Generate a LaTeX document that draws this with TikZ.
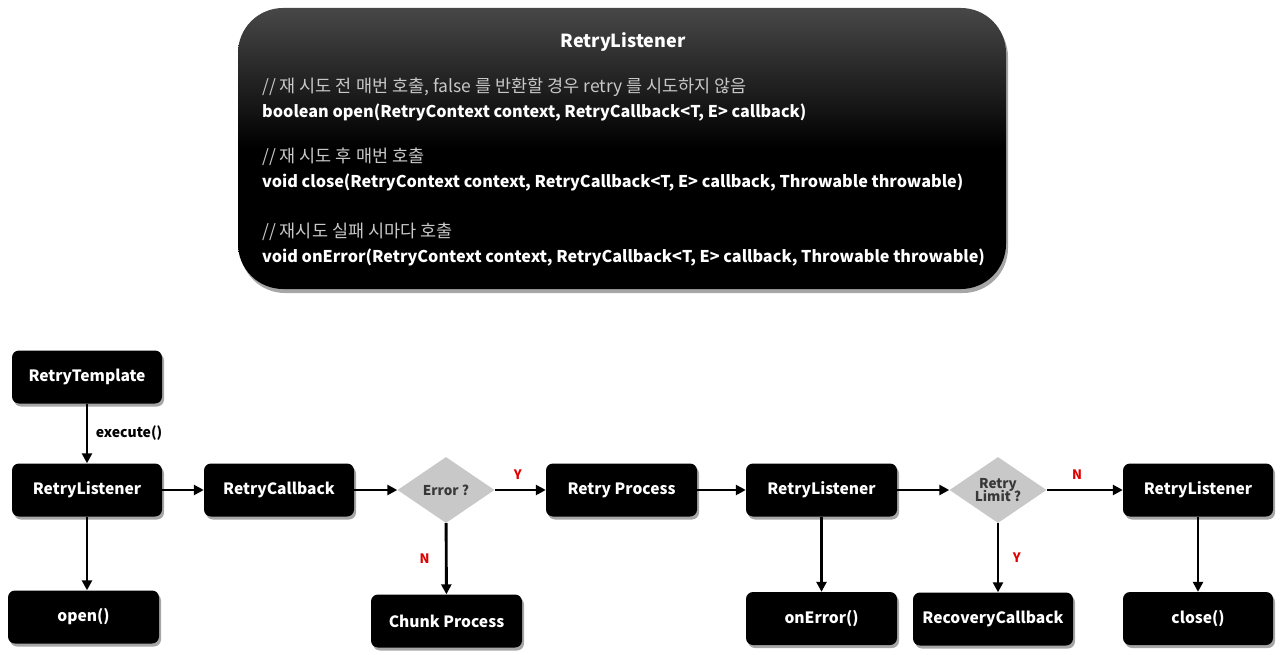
\documentclass[tikz,border=0pt]{standalone}
\usepackage{fontspec}
\setmainfont{Noto Sans CJK KR}
\usetikzlibrary{arrows.meta,shapes.geometric,shadows}
\definecolor{cmtgray}{HTML}{C8C8C8}
\definecolor{dgray}{HTML}{C8C8C8}
\definecolor{lblred}{HTML}{E00000}
\tikzset{
  box/.style={draw=none, fill=black, rounded corners=7pt, minimum width=150pt, minimum height=53pt,
    inner sep=0pt, text=white, font=\bfseries\fontsize{15.6}{18}\selectfont,
    drop shadow={shadow xshift=2pt, shadow yshift=-3pt, opacity=0.35, fill=black}},
  dia/.style={diamond, fill=dgray, draw=none, minimum width=97pt, minimum height=66pt, aspect=1.47,
    inner sep=0pt, text=black!78, font=\bfseries\fontsize{13.5}{14}\selectfont, align=center},
  arr/.style={line width=2.9pt, -{Triangle[length=10pt,width=10pt]}},
  yn/.style={text=lblred, font=\bfseries\fontsize{13}{14}\selectfont},
  cmt/.style={text=cmtgray, font=\fontsize{17.5}{20}\selectfont, anchor=west, inner sep=0pt},
  code/.style={text=white, font=\bfseries\fontsize{16.2}{18}\selectfont, anchor=west, inner sep=0pt},
}
\begin{document}
\begin{tikzpicture}[x=1pt,y=-1pt]
\useasboundingbox (0,0) rectangle (1285,655);
% top panel
\node[draw=none, rounded corners=45pt, minimum width=768pt, minimum height=281pt, inner sep=0pt,
  top color=black!72, bottom color=black, middle color=black,
  drop shadow={shadow xshift=2pt, shadow yshift=-4pt, opacity=0.35, fill=black}] (panel) at (622,148.5) {};
\node[text=white, font=\bfseries\fontsize{18}{20}\selectfont] (title) at (623,42) {RetryListener};
\node[cmt] (c1) at (262,87) {// 재 시도 전 매번 호출, false 를 반환할 경우 retry 를 시도하지 않음};
\node[code] (l1) at (262,113) {boolean open(RetryContext context, RetryCallback<T, E> callback)};
\node[cmt] (c2) at (262,157) {// 재 시도 후 매번 호출};
\node[code] (l2) at (262,183) {void close(RetryContext context, RetryCallback<T, E> callback, Throwable throwable)};
\node[cmt] (c3) at (262,232) {// 재시도 실패 시마다 호출};
\node[code] (l3) at (262,258) {void onError(RetryContext context, RetryCallback<T, E> callback, Throwable throwable)};

% flow
\node[box] (tmpl) at (87,377) {RetryTemplate};
\node[box] (rl1) at (87,490) {RetryListener};
\node[box, minimum width=151pt] (open) at (83.5,617) {open()};
\node[box] (rcb) at (279,490) {RetryCallback};
\node[dia] (err) at (446,490) {Error ?};
\node[box, minimum width=151pt] (chunk) at (446.5,621) {Chunk Process};
\node[box, minimum width=151pt] (rp) at (621.5,490) {Retry Process};
\node[box, minimum width=151pt] (rl2) at (821.5,490) {RetryListener};
\node[box, minimum width=151pt] (onerr) at (821.5,618.5) {onError()};
\node[dia] (lim) at (998,490) {Retry\\[-2pt]Limit ?};
\node[box, minimum width=160pt] (rec) at (993,619) {RecoveryCallback};
\node[box] (rl3) at (1198,490) {RetryListener};
\node[box] (close) at (1198,618.5) {close()};

\draw[arr] (tmpl.south) -- (rl1.north) node[midway, right=4pt, text=black, font=\bfseries\fontsize{14}{15}\selectfont] (exe) {execute()};
\draw[arr] (rl1.south) -- (rl1.south |- open.north);
\draw[arr] (rl1) -- (rcb);
\draw[arr] (rcb) -- (err);
\draw[arr] (err) -- (rp) node[pos=0.45, above=6pt, yn] (y1) {Y};
\draw[arr] (err) -- (chunk) node[midway, left=12pt, yn] (n1) {N};
\draw[arr] (rp) -- (rl2);
\draw[arr] (rl2) -- (onerr);
\draw[arr] (rl2) -- (lim);
\draw[arr] (lim) -- (rl3) node[pos=0.4, above=6pt, yn] (n2) {N};
\draw[arr] (lim.south) -- (lim.south |- rec.north) node[midway, right=10pt, yn] (y2) {Y};
\draw[arr] (rl3) -- (close);
\end{tikzpicture}
\end{document}
